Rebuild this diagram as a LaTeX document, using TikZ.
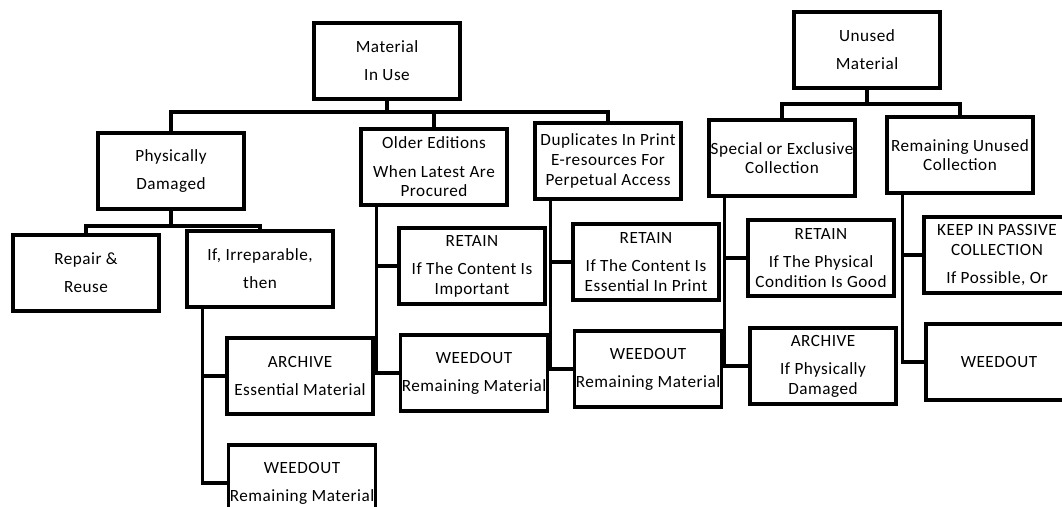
\documentclass[tikz,border=0pt]{standalone}
\usepackage{fontspec}
\setmainfont{Carlito}[LetterSpace=3]
\begin{document}
\begin{tikzpicture}[x=0.025cm, y=-0.025cm, line width=2.2pt,
	box/.style={draw, rectangle, minimum width=3.65cm, minimum height=1.9cm,
		align=center, inner sep=1pt, font=\fontsize{12.2}{14}\selectfont}]
	
	% --- 1. canvas ---
	\useasboundingbox (0,0) rectangle (1062,506);
	
	% --- 2. top boxes ---
	\node[box] (inuse)  at (387,61)  {Material\\[6pt]In Use};
	\node[box] (unused) at (867,50)  {Unused\\[6pt]Material};
	
	% --- 3. second row ---
	\node[box] (phys)    at (171,171) {Physically\\[6pt]Damaged};
	\node[box] (older)   at (434,167) {Older Editions\\[6pt]When Latest Are\\Procured};
	\node[box] (dup)     at (608,161) {Duplicates In Print\\E-resources For\\Perpetual Access};
	\node[box] (special) at (782,158) {Special or Exclusive\\Collection};
	\node[box] (remun)   at (960,155) {Remaining Unused\\Collection};
	
	% --- 4. leaves ---
	\node[box] (repair) at (86,273)  {Repair \&\\[6pt]Reuse};
	\node[box] (irrep)  at (260,269) {If, Irreparable,\\[6pt]then};
	\node[box] (arch1)  at (300,376) {ARCHIVE\\[6pt]Essential Material};
	\node[box] (weed1)  at (302,483) {WEEDOUT\\[6pt]Remaining Material};
	
	\node[box] (ret2)  at (472,266) {RETAIN\\[6pt]If The Content Is\\Important};
	\node[box] (weed2) at (474,373) {WEEDOUT\\[6pt]Remaining Material};
	
	\node[box] (ret3)  at (646,262) {RETAIN\\[6pt]If The Content Is\\Essential In Print};
	\node[box] (weed3) at (648,369) {WEEDOUT\\[6pt]Remaining Material};
	
	\node[box] (ret4)  at (821,258) {RETAIN\\[6pt]If The Physical\\Condition Is Good};
	\node[box] (arch4) at (823,366) {ARCHIVE\\[6pt]If Physically\\Damaged};
	
	\node[box] (keep)  at (997,255) {KEEP IN PASSIVE\\COLLECTION\\[6pt]If Possible, Or};
	\node[box] (weed5) at (999,362) {WEEDOUT};
	
	% --- 5. bus lines ---
	\coordinate (busA) at (0,112);
	\coordinate (busB) at (0,104);
	\coordinate (busC) at (0,226);
	
	\draw (phys.north) -- (phys.north |- busA) -- (dup.north |- busA) -- (dup.north);
	\draw (inuse.south) -- (inuse.south |- busA);
	\draw (older.north) -- (older.north |- busA);
	
	\draw (special.north) -- (special.north |- busB) -- (remun.north |- busB) -- (remun.north);
	\draw (unused.south) -- (unused.south |- busB);
	
	\draw (repair.north) -- (repair.north |- busC) -- (irrep.north |- busC) -- (irrep.north);
	\draw (phys.south) -- (phys.south |- busC);
	
	% --- 6. trunks (offset from left edge) ---
	\coordinate (t1) at ([xshift=0.425cm]irrep.south west);
	\coordinate (t2) at ([xshift=0.425cm]older.south west);
	\coordinate (t3) at ([xshift=0.425cm]dup.south west);
	\coordinate (t4) at ([xshift=0.425cm]special.south west);
	\coordinate (t5) at ([xshift=0.425cm]remun.south west);
	
	\draw (t1) |- (arch1.west);
	\draw (t1) |- (weed1.west);
	\draw (t2) |- (ret2.west);
	\draw (t2) |- (weed2.west);
	\draw (t3) |- (ret3.west);
	\draw (t3) |- (weed3.west);
	\draw (t4) |- (ret4.west);
	\draw (t4) |- (arch4.west);
	\draw (t5) |- (keep.west);
	\draw (t5) |- (weed5.west);
	
\end{tikzpicture}
\end{document}
